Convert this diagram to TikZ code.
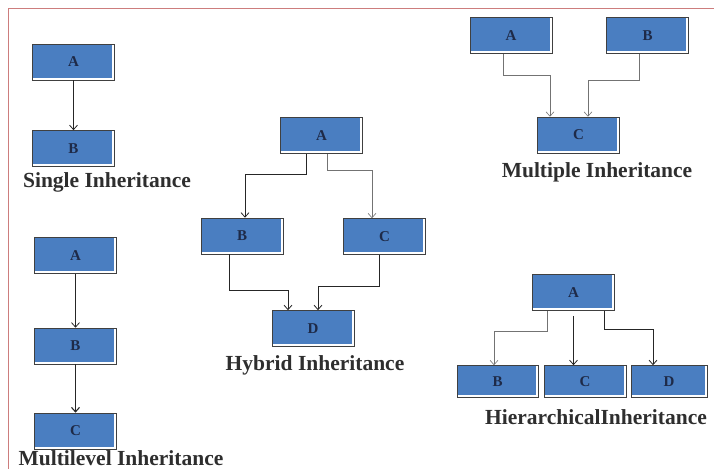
\documentclass[tikz,border=0pt]{standalone}
\usepackage{fontspec}
\setmainfont{Liberation Serif}
\usetikzlibrary{arrows.meta}

\definecolor{boxblue}{RGB}{74,126,193}
\definecolor{letterblue}{RGB}{30,42,72}
\definecolor{framered}{RGB}{205,125,125}

\tikzset{
  classbox/.style={draw=black!75, line width=0.6pt, fill=white,
    minimum width=82pt, minimum height=36pt, inner sep=0pt,
    font=\fontsize{15}{15}\selectfont\bfseries, text=letterblue,
    path picture={\fill[boxblue] (path picture bounding box.north west)
      rectangle ([shift={(-2.2pt,2.2pt)}]path picture bounding box.south east);}},
  caption/.style={font=\fontsize{21.5}{22}\selectfont\bfseries, text=black!82},
  inh/.style={draw=black!55, line width=0.6pt, -{Straight Barb[length=4.5pt,width=8pt]}},
  inhdark/.style={inh, draw=black!85, line width=0.8pt}
}

\begin{document}
\begin{tikzpicture}[x=1pt, y=-1pt]

\useasboundingbox (0,0) rectangle (714,469);
\draw[framered, line width=0.8pt] (714,8) -- (8,8) -- (8,469);

% single
\node[classbox] (siA) at (73.5,62) {A};
\node[classbox] (siB) at (73.5,148.5) {B};
\draw[inhdark] (siA.south) -- (siB.north);
\node[caption] (siL) at (107,182) {Single Inheritance};

% multilevel
\node[classbox] (mlA) at (75.5,255.5) {A};
\node[classbox] (mlB) at (75.5,346) {B};
\node[classbox] (mlC) at (75.5,431) {C};
\draw[inhdark] (mlA.south) -- (mlB.north);
\draw[inhdark, line width=1.1pt] (mlB.south) -- (mlC.north);
\node[caption] (mlL) at (121,458) {Multilevel Inheritance};

% hybrid
\node[classbox] (hyA) at (321.5,135.5) {A};
\node[classbox] (hyB) at (242,236) {B};
\node[classbox] (hyC) at (384.5,236.5) {C};
\node[classbox] (hyD) at (313,328.5) {D};
\draw[inhdark] ([xshift=-15.5pt]hyA.south) -- ++(0,21) -| ([xshift=3pt]hyB.north);
\draw[inh] ([xshift=5.5pt]hyA.south) -- ++(0,16) -| ([xshift=-12.5pt]hyC.north);
\draw[inhdark] ([xshift=-13pt]hyB.south) -- ++(0,36) -| ([xshift=-25pt]hyD.north);
\draw[inhdark] ([xshift=-5.5pt]hyC.south) -- ++(0,32) -| ([xshift=5pt]hyD.north);
\node[caption] (hyL) at (315,365) {Hybrid Inheritance};

% multiple
\node[classbox] (muA) at (511,35.5) {A};
\node[classbox] (muB) at (647.5,35.5) {B};
\node[classbox] (muC) at (578.5,135) {C};
\draw[inh] ([xshift=-8pt]muA.south) -- ++(0,21) -| ([xshift=-28.5pt]muC.north);
\draw[inh] ([xshift=-8.5pt]muB.south) -- ++(0,26) -| ([xshift=9.5pt]muC.north);
\node[caption] (muL) at (597,172) {Multiple Inheritance};

% hierarchical
\node[classbox] (hiA) at (573.5,292.5) {A};
\node[classbox, minimum width=81pt, minimum height=32pt] (hiB) at (497.5,381.5) {B};
\node[classbox, minimum width=82pt, minimum height=32pt] (hiC) at (585,381.5) {C};
\node[classbox, minimum width=76pt, minimum height=32pt] (hiD) at (669,381.5) {D};
\draw[inh] ([xshift=-26.5pt]hiA.south) -- ++(0,20) -| ([xshift=-3.5pt]hiB.north);
\draw[inhdark] ([yshift=-5pt]hiA.south) -- (hiA.south |- hiC.north);
\draw[inhdark] ([xshift=30.5pt]hiA.south) -- ++(0,19) -| ([xshift=-16pt]hiD.north);
\node[caption] (hiL) at (596,417) {HierarchicalInheritance};

\end{tikzpicture}
\end{document}
